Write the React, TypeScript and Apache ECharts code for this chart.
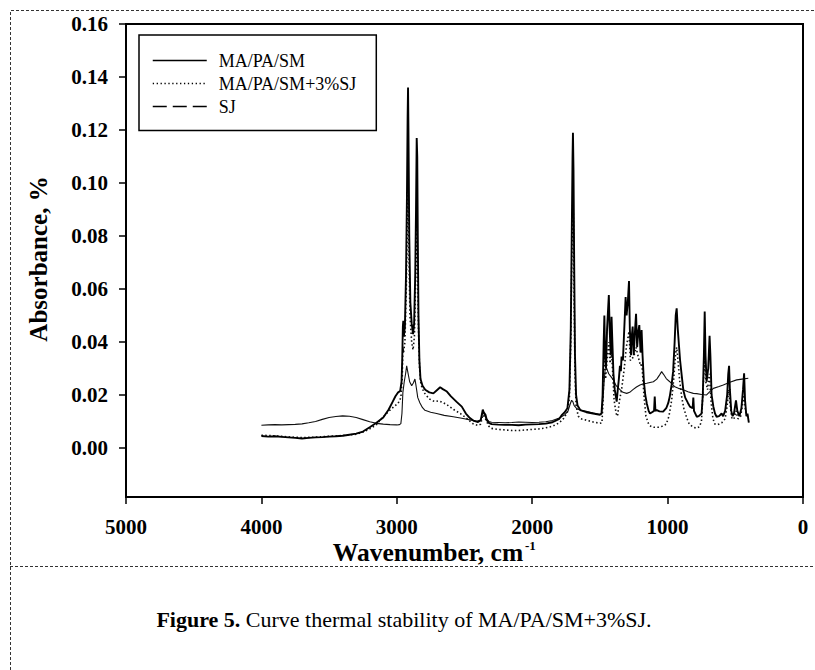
import React, { useEffect, useRef } from "react";
import * as echarts from "echarts";

const seriesNames = ["MA/PA/SM", "MA/PA/SM+3%SJ", "SJ"];
const xTicks = [5000, 4000, 3000, 2000, 1000, 0];
const yTicks = [0, 0.02, 0.04, 0.06, 0.08, 0.1, 0.12, 0.14, 0.16];

// MA/PA/SM: [wavenumber cm-1, absorbance]
const maPaSm: number[][] = [
  [4000, 0.0045], [3950, 0.0043], [3900, 0.0044], [3850, 0.0042], [3800, 0.004], [3750, 0.0038],
  [3700, 0.0036], [3650, 0.0038], [3600, 0.004], [3550, 0.0041], [3500, 0.0043], [3450, 0.0044],
  [3400, 0.0046], [3350, 0.005], [3300, 0.0054], [3250, 0.0062], [3200, 0.0078], [3150, 0.0095],
  [3100, 0.0115], [3060, 0.0145], [3030, 0.0175], [3010, 0.0195], [2990, 0.021], [2975, 0.0215],
  [2965, 0.025], [2960, 0.033], [2955, 0.046], [2952, 0.048], [2948, 0.042], [2940, 0.046],
  [2932, 0.065], [2925, 0.095], [2920, 0.125], [2917, 0.136], [2914, 0.12], [2908, 0.08],
  [2900, 0.055], [2890, 0.047], [2880, 0.043], [2872, 0.047], [2864, 0.065], [2858, 0.09],
  [2853, 0.117], [2849, 0.11], [2845, 0.08], [2840, 0.05], [2833, 0.033], [2825, 0.026],
  [2810, 0.0235], [2790, 0.022], [2760, 0.021], [2730, 0.0206], [2700, 0.022], [2680, 0.0229],
  [2660, 0.0222], [2630, 0.0213], [2600, 0.0195], [2560, 0.0175], [2520, 0.0156], [2490, 0.013],
  [2460, 0.0113], [2430, 0.0102], [2400, 0.0098], [2380, 0.0105], [2365, 0.0145], [2358, 0.0135],
  [2345, 0.0125], [2335, 0.0105], [2320, 0.0095], [2300, 0.009], [2250, 0.0088], [2200, 0.0087],
  [2150, 0.0087], [2100, 0.0086], [2050, 0.0088], [2000, 0.0089], [1950, 0.009], [1900, 0.0092],
  [1850, 0.0097], [1800, 0.011], [1780, 0.0125], [1760, 0.0135], [1740, 0.015], [1725, 0.022],
  [1715, 0.045], [1708, 0.08], [1702, 0.11], [1699, 0.119], [1695, 0.105], [1690, 0.07],
  [1684, 0.035], [1676, 0.02], [1665, 0.016], [1645, 0.0143], [1600, 0.0135], [1550, 0.013],
  [1500, 0.0125], [1488, 0.013], [1480, 0.02], [1472, 0.04], [1467, 0.05], [1462, 0.035],
  [1455, 0.03], [1447, 0.045], [1440, 0.052], [1434, 0.0577], [1428, 0.045], [1420, 0.035],
  [1414, 0.0495], [1408, 0.04], [1400, 0.028], [1390, 0.0219], [1376, 0.0175], [1368, 0.022],
  [1360, 0.026], [1352, 0.031], [1345, 0.029], [1340, 0.0345], [1330, 0.033], [1320, 0.045],
  [1310, 0.057], [1303, 0.05], [1294, 0.055], [1285, 0.063], [1279, 0.045], [1270, 0.035],
  [1265, 0.042], [1258, 0.0458], [1250, 0.035], [1240, 0.045], [1233, 0.0506], [1225, 0.038],
  [1216, 0.044], [1209, 0.0464], [1200, 0.036], [1192, 0.0445], [1185, 0.035], [1175, 0.025],
  [1165, 0.02], [1154, 0.0169], [1140, 0.014], [1130, 0.013], [1115, 0.0135], [1100, 0.014],
  [1095, 0.0194], [1090, 0.014], [1080, 0.0143], [1060, 0.0138], [1033, 0.0137], [1010, 0.015],
  [995, 0.017], [984, 0.0194], [970, 0.024], [959, 0.029], [948, 0.04], [940, 0.05],
  [933, 0.0527], [925, 0.045], [915, 0.038], [908, 0.0332], [895, 0.027], [884, 0.0219],
  [870, 0.019], [850, 0.017], [835, 0.0156], [815, 0.015], [810, 0.019], [805, 0.014],
  [785, 0.0118], [770, 0.012], [760, 0.0125], [749, 0.013], [740, 0.02], [732, 0.035],
  [726, 0.0515], [720, 0.035], [712, 0.025], [700, 0.03], [690, 0.0423], [684, 0.035],
  [675, 0.02], [662, 0.0156], [650, 0.013], [638, 0.0118], [620, 0.012], [601, 0.013],
  [590, 0.012], [575, 0.014], [560, 0.02], [552, 0.028], [546, 0.031], [540, 0.022],
  [530, 0.014], [520, 0.012], [510, 0.013], [495, 0.018], [485, 0.014], [470, 0.012],
  [455, 0.015], [443, 0.022], [435, 0.0282], [428, 0.018], [418, 0.012], [410, 0.013],
  [400, 0.0096],
];

// MA/PA/SM+3%SJ
const maPaSmSj: number[][] = [
  [4000, 0.0048], [3900, 0.0046], [3800, 0.0042], [3700, 0.0039], [3600, 0.0041], [3500, 0.0044],
  [3400, 0.0047], [3300, 0.0052], [3250, 0.006], [3200, 0.0072], [3150, 0.0088], [3124, 0.0105],
  [3050, 0.0143], [2990, 0.0169], [2970, 0.019], [2960, 0.026], [2955, 0.038], [2950, 0.036],
  [2940, 0.04], [2930, 0.06], [2922, 0.085], [2917, 0.098], [2912, 0.08], [2903, 0.05],
  [2890, 0.04], [2880, 0.037], [2870, 0.042], [2860, 0.065], [2853, 0.085], [2847, 0.07],
  [2840, 0.045], [2832, 0.03], [2822, 0.024], [2800, 0.021], [2760, 0.0185], [2720, 0.0175],
  [2690, 0.0178], [2660, 0.0172], [2620, 0.016], [2580, 0.0145], [2530, 0.013], [2484, 0.0112],
  [2440, 0.0092], [2400, 0.0085], [2380, 0.009], [2365, 0.0125], [2355, 0.012], [2340, 0.0105],
  [2320, 0.0082], [2300, 0.0074], [2250, 0.007], [2200, 0.0068], [2150, 0.0066], [2100, 0.0066],
  [2050, 0.0068], [2000, 0.007], [1950, 0.0072], [1900, 0.0076], [1850, 0.0082], [1800, 0.0095],
  [1770, 0.011], [1740, 0.0135], [1725, 0.019], [1715, 0.04], [1708, 0.07], [1702, 0.09],
  [1699, 0.095], [1695, 0.085], [1690, 0.055], [1684, 0.028], [1676, 0.016], [1660, 0.012],
  [1640, 0.011], [1600, 0.0105], [1550, 0.0098], [1500, 0.0093], [1485, 0.0095], [1478, 0.016],
  [1470, 0.03], [1465, 0.034], [1458, 0.026], [1447, 0.033], [1434, 0.04], [1425, 0.032],
  [1414, 0.036], [1405, 0.028], [1395, 0.018], [1380, 0.013], [1370, 0.012], [1355, 0.018],
  [1340, 0.022], [1320, 0.03], [1305, 0.038], [1285, 0.044], [1275, 0.033], [1258, 0.034],
  [1240, 0.036], [1233, 0.038], [1215, 0.034], [1200, 0.031], [1190, 0.032], [1175, 0.02],
  [1160, 0.012], [1140, 0.009], [1120, 0.008], [1100, 0.0078], [1070, 0.0078], [1040, 0.0082],
  [1010, 0.009], [990, 0.012], [970, 0.018], [955, 0.026], [940, 0.036], [933, 0.038],
  [925, 0.034], [910, 0.025], [895, 0.019], [880, 0.015], [860, 0.0115], [840, 0.009],
  [810, 0.0078], [785, 0.0075], [765, 0.008], [750, 0.01], [738, 0.022], [730, 0.03],
  [726, 0.033], [718, 0.025], [705, 0.022], [692, 0.028], [687, 0.028], [678, 0.017],
  [665, 0.011], [650, 0.009], [630, 0.0088], [600, 0.0095], [575, 0.011], [560, 0.016],
  [548, 0.022], [540, 0.017], [525, 0.011], [510, 0.011], [495, 0.014], [480, 0.011],
  [460, 0.012], [445, 0.017], [435, 0.02], [425, 0.014], [410, 0.012], [400, 0.011],
];

// SJ
const sj: number[][] = [
  [4000, 0.0086], [3950, 0.0087], [3900, 0.0088], [3850, 0.0087], [3800, 0.0088], [3750, 0.0089],
  [3700, 0.0091], [3650, 0.0095], [3600, 0.01], [3550, 0.0108], [3500, 0.0115], [3450, 0.0119],
  [3400, 0.0121], [3350, 0.012], [3300, 0.0115], [3250, 0.0107], [3200, 0.0099], [3150, 0.0093],
  [3100, 0.009], [3050, 0.0088], [3000, 0.0087], [2980, 0.0088], [2970, 0.0092], [2962, 0.013],
  [2955, 0.021], [2945, 0.025], [2935, 0.028], [2927, 0.031], [2920, 0.029], [2905, 0.025],
  [2890, 0.0235], [2878, 0.0245], [2866, 0.026], [2858, 0.0235], [2845, 0.019], [2829, 0.017],
  [2810, 0.0152], [2792, 0.0142], [2750, 0.0135], [2706, 0.013], [2650, 0.0123], [2583, 0.0118],
  [2520, 0.0112], [2459, 0.0106], [2410, 0.0101], [2380, 0.0105], [2365, 0.0135], [2355, 0.0128],
  [2340, 0.0112], [2320, 0.01], [2300, 0.0097], [2250, 0.0096], [2200, 0.0095], [2150, 0.0096],
  [2100, 0.0098], [2050, 0.0097], [2000, 0.0096], [1950, 0.0097], [1900, 0.0099], [1850, 0.0104],
  [1800, 0.0113], [1760, 0.0125], [1735, 0.014], [1720, 0.0165], [1709, 0.018], [1700, 0.0175],
  [1690, 0.016], [1670, 0.0148], [1647, 0.0143], [1600, 0.0138], [1549, 0.0132], [1500, 0.0127],
  [1487, 0.013], [1478, 0.018], [1470, 0.024], [1462, 0.0294], [1450, 0.03], [1435, 0.028],
  [1420, 0.027], [1401, 0.0257], [1380, 0.0235], [1352, 0.022], [1330, 0.021], [1302, 0.0206],
  [1280, 0.021], [1256, 0.022], [1230, 0.023], [1204, 0.0238], [1180, 0.0242], [1154, 0.0244],
  [1130, 0.0247], [1105, 0.025], [1080, 0.026], [1060, 0.0275], [1044, 0.0288], [1030, 0.0278],
  [1010, 0.0262], [984, 0.025], [960, 0.0238], [947, 0.0231], [920, 0.0225], [884, 0.022],
  [850, 0.0212], [810, 0.0206], [785, 0.0205], [750, 0.0202], [712, 0.02], [690, 0.0212],
  [662, 0.0225], [620, 0.0232], [589, 0.0238], [540, 0.0248], [490, 0.0257], [450, 0.026],
  [404, 0.0263],
];

const SERIF = "'Liberation Serif', 'Times New Roman', serif";

export default function App() {
  const ref = useRef<HTMLDivElement>(null);
  useEffect(() => {
    if (!ref.current) return;
    const chart = echarts.init(ref.current, undefined, { renderer: "svg" });
    const dash = [3, 2];
    const hiddenSymbol = { color: "#000", opacity: 0, borderWidth: 0 };
    chart.setOption({
      animation: false,
      backgroundColor: "#ffffff",
      grid: {
        left: 126, right: 12, top: 24, bottom: 173,
        show: true, borderColor: "#000", borderWidth: 2, backgroundColor: "transparent",
      },
      legend: {
        orient: "vertical",
        left: 139,
        top: 35,
        borderColor: "#000",
        borderWidth: 1.5,
        borderRadius: 0,
        padding: [16.5, 20, 15, 13],
        itemWidth: 54,
        itemHeight: 14,
        itemGap: 5,
        selectedMode: false,
        itemStyle: hiddenSymbol,
        textStyle: { fontFamily: SERIF, fontSize: 18, color: "#000", padding: [0, 0, 0, 7] },
        data: [
          { name: seriesNames[0], itemStyle: hiddenSymbol, lineStyle: { color: "#000", width: 1.3, type: "solid" } },
          { name: seriesNames[1], itemStyle: hiddenSymbol, lineStyle: { color: "#000", width: 1.3, type: [1.3, 2.6] } },
          { name: seriesNames[2], itemStyle: hiddenSymbol, lineStyle: { color: "#000", width: 1.5, type: [14, 6] } },
        ],
      },
      xAxis: {
        type: "value",
        min: 0,
        max: 5000,
        interval: 1000,
        inverse: true,
        axisLine: { onZero: false, lineStyle: { color: "#000", width: 2 } },
        axisTick: { inside: false, length: 7, lineStyle: { color: "#000", width: 1.5 } },
        axisLabel: {
          margin: 19, fontFamily: SERIF, fontWeight: "bold", fontSize: 21, color: "#000",
          formatter: (v: number) => (xTicks.includes(v) ? String(v) : ""),
        },
        splitLine: { show: false },
      },
      yAxis: {
        type: "value",
        min: -0.0185,
        max: 0.16,
        axisLine: { show: true, onZero: false, lineStyle: { color: "#000", width: 2 } },
        axisTick: { show: true, inside: false, length: 7, customValues: yTicks, lineStyle: { color: "#000", width: 1.5 } },
        axisLabel: {
          customValues: yTicks,
          margin: 18, fontFamily: SERIF, fontWeight: "bold", fontSize: 21, color: "#000",
          formatter: (v: number) => v.toFixed(2),
        },
        splitLine: { show: false },
      },
      series: [
        {
          name: seriesNames[2], type: "line", data: sj, symbol: "none", showSymbol: false, silent: true,
          itemStyle: { color: "#000" },
          lineStyle: { color: "#111", width: 1.1 },
        },
        {
          name: seriesNames[1], type: "line", data: maPaSmSj, symbol: "none", showSymbol: false, silent: true,
          itemStyle: { color: "#000" },
          lineStyle: { color: "#111", width: 1.6, type: [1.5, 2.4] },
        },
        {
          name: seriesNames[0], type: "line", data: maPaSm, symbol: "none", showSymbol: false, silent: true,
          itemStyle: { color: "#000" },
          lineStyle: { color: "#000", width: 1.9 },
        },
      ],
      graphic: [
        {
          type: "polyline", silent: true,
          shape: { points: [[10.5, 670], [10.5, 10.5], [815, 10.5]] },
          style: { fill: "none", stroke: "#333", lineWidth: 1, lineDash: dash },
        },
        {
          type: "line", silent: true,
          shape: { x1: 10, y1: 566.5, x2: 815, y2: 566.5 },
          style: { stroke: "#333", lineWidth: 1, lineDash: dash },
        },
        {
          type: "text", silent: true, x: 38, y: 259, rotation: Math.PI / 2,
          style: {
            text: "Absorbance, %", fontFamily: SERIF, fontWeight: "bold", fontSize: 25,
            fill: "#000", align: "center", verticalAlign: "middle",
          },
        },
        {
          type: "text", silent: true, x: 428, y: 552,
          style: {
            text: "Wavenumber, cm", fontFamily: SERIF, fontWeight: "bold", fontSize: 25.5,
            fill: "#000", align: "center", verticalAlign: "middle",
          },
        },
        {
          type: "text", silent: true, x: 525, y: 545,
          style: {
            text: "-1", fontFamily: SERIF, fontWeight: "bold", fontSize: 13,
            fill: "#000", align: "left", verticalAlign: "middle",
          },
        },
        {
          type: "text", silent: true, x: 404, y: 619,
          style: {
            text: "{b|Figure 5.} Curve thermal stability of MA/PA/SM+3%SJ.",
            fontFamily: SERIF, fontSize: 22, fill: "#000", align: "center", verticalAlign: "middle",
            rich: { b: { fontFamily: SERIF, fontSize: 22, fontWeight: "bold", fill: "#000" } },
          },
        },
      ],
    });
    return () => chart.dispose();
  }, []);
  return (
    <div
      ref={ref}
      style={{ position: "fixed", left: 0, top: 0, width: 815, height: 670, background: "#fff" }}
    />
  );
}
